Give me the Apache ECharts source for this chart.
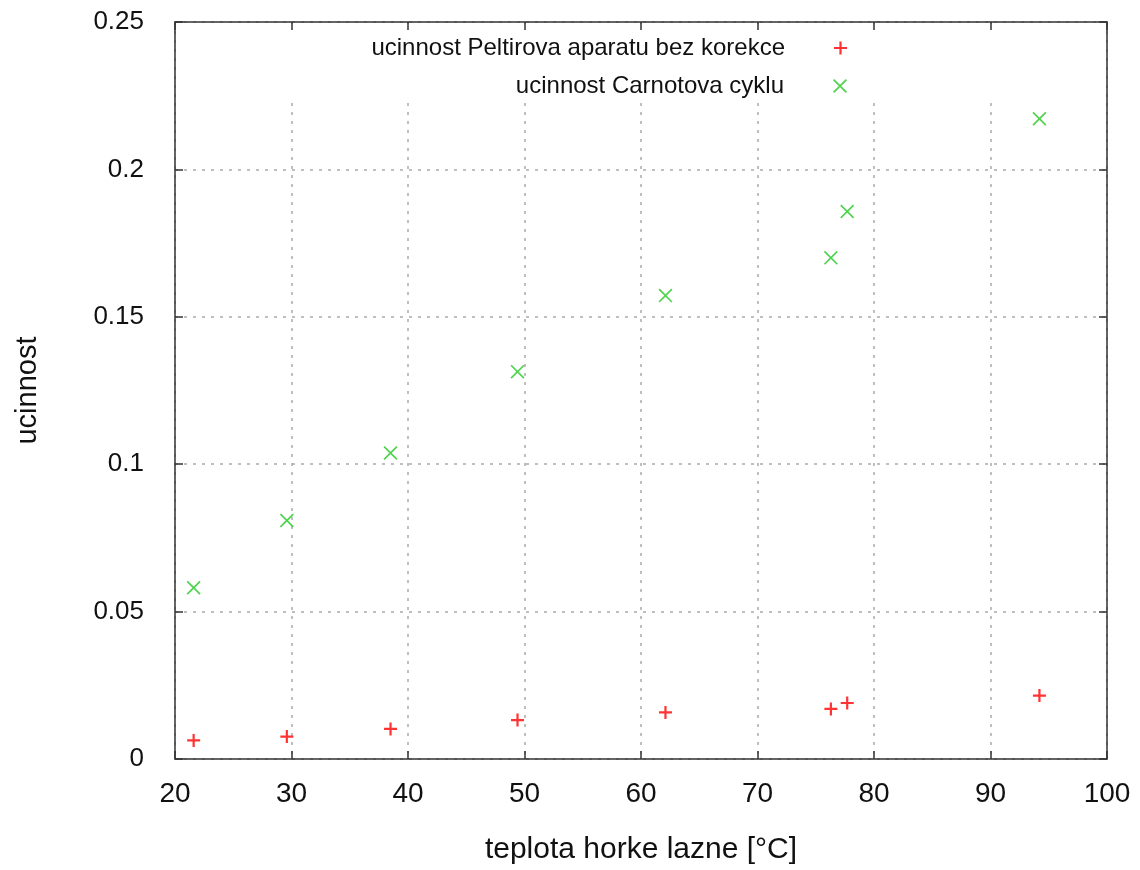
<!DOCTYPE html>
<html>
<head>
<meta charset="utf-8">
<script src="https://cdn.jsdelivr.net/npm/echarts@6/dist/echarts.min.js"></script>
<style>html,body{margin:0;padding:0;background:#fff}#c{width:1140px;height:870px}</style>
</head>
<body>
<div id="c"></div>
<script>
var seriesNames = ['ucinnost Peltirova aparatu bez korekce', 'ucinnost Carnotova cyklu'];
var temperature = [21.6, 29.6, 38.5, 49.4, 62.1, 76.3, 77.7, 94.2];
var peltier = [0.0063, 0.0076, 0.0102, 0.0132, 0.0158, 0.0170, 0.0190, 0.0215];
var carnot = [0.0581, 0.0809, 0.1038, 0.1314, 0.1572, 0.1700, 0.1857, 0.2172];
var xTicks = [20, 30, 40, 50, 60, 70, 80, 90, 100];
var yTicks = [0, 0.05, 0.1, 0.15, 0.2, 0.25];
var xTitle = 'teplota horke lazne [°C]';
var yTitle = 'ucinnost';

function pairs(xs, ys) { return xs.map(function (x, i) { return [x, ys[i]]; }); }

var PLUS = 'path://M0,5.4 L13,5.4 L13,7.6 L0,7.6 Z M5.4,0 L7.6,0 L7.6,13 L5.4,13 Z';
var CROSS = 'path://M0,1.1 L1.1,0 L13,11.9 L11.9,13 Z M11.9,0 L13,1.1 L1.1,13 L0,11.9 Z';
var FONT = '"Liberation Sans", Arial, sans-serif';
var AX = '#333';

var chart = echarts.init(document.getElementById('c'), null, { renderer: 'canvas' });
var baseX = { type: 'value', min: xTicks[0], max: xTicks[xTicks.length - 1], interval: 10 };
var baseY = { type: 'value', min: yTicks[0], max: yTicks[yTicks.length - 1], interval: 0.05 };
var legendText = { fontFamily: FONT, fontSize: 24, color: '#111', padding: [0, 44, 0, 0] };
var tickStyle = { show: true, inside: true, length: 8, lineStyle: { color: AX, width: 1.5 } };
var lineStyle = { show: true, onZero: false, lineStyle: { color: AX, width: 1.5 } };

chart.setOption({
  animation: false,
  backgroundColor: '#fff',
  grid: { left: 175, top: 22, right: 33, bottom: 111, containLabel: false },
  legend: [
    {
      data: [seriesNames[0]], orient: 'vertical', align: 'right',
      right: 35, top: 24, padding: [12, 258, 40, 110],
      backgroundColor: '#fff', itemWidth: 13, itemHeight: 13,
      textStyle: legendText, z: 4
    },
    {
      data: [seriesNames[1]], orient: 'vertical', align: 'right',
      right: 293, top: 74, padding: 0,
      itemWidth: 14, itemHeight: 14,
      textStyle: legendText, z: 5
    }
  ],
  xAxis: [
    Object.assign({}, baseX, {
      position: 'bottom',
      name: xTitle, nameLocation: 'middle', nameGap: 76,
      nameTextStyle: { fontFamily: FONT, fontSize: 30, color: '#111' },
      axisLine: lineStyle,
      axisTick: tickStyle,
      axisLabel: { margin: 21, fontFamily: FONT, fontSize: 28, color: '#111' },
      splitLine: { show: true, lineStyle: { color: '#aaa', width: 1.5, type: [3, 6] } }
    }),
    Object.assign({}, baseX, {
      position: 'top', z: 10,
      axisLine: lineStyle,
      axisTick: tickStyle,
      axisLabel: { show: false },
      splitLine: { show: false }
    })
  ],
  yAxis: [
    Object.assign({}, baseY, {
      position: 'left',
      name: yTitle, nameLocation: 'middle', nameGap: 133,
      nameTextStyle: { fontFamily: FONT, fontSize: 29, color: '#111' },
      axisLine: lineStyle,
      axisTick: tickStyle,
      axisLabel: {
        margin: 31, fontFamily: FONT, fontSize: 26, color: '#111',
        formatter: function (v) { return String(Math.round(v * 100) / 100); }
      },
      splitLine: { show: true, lineStyle: { color: '#aaa', width: 1.5, type: [3, 6] } }
    }),
    Object.assign({}, baseY, {
      position: 'right', z: 10,
      axisLine: lineStyle,
      axisTick: tickStyle,
      axisLabel: { show: false },
      splitLine: { show: false }
    })
  ],
  series: [
    {
      name: seriesNames[0], type: 'scatter', xAxisIndex: 0, yAxisIndex: 0,
      symbol: PLUS, symbolSize: 13,
      itemStyle: { color: '#ff0000' },
      data: pairs(temperature, peltier)
    },
    {
      name: seriesNames[1], type: 'scatter', xAxisIndex: 0, yAxisIndex: 0,
      symbol: CROSS, symbolSize: 14,
      itemStyle: { color: '#22c822' },
      data: pairs(temperature, carnot)
    }
  ]
});
</script>
</body>
</html>
